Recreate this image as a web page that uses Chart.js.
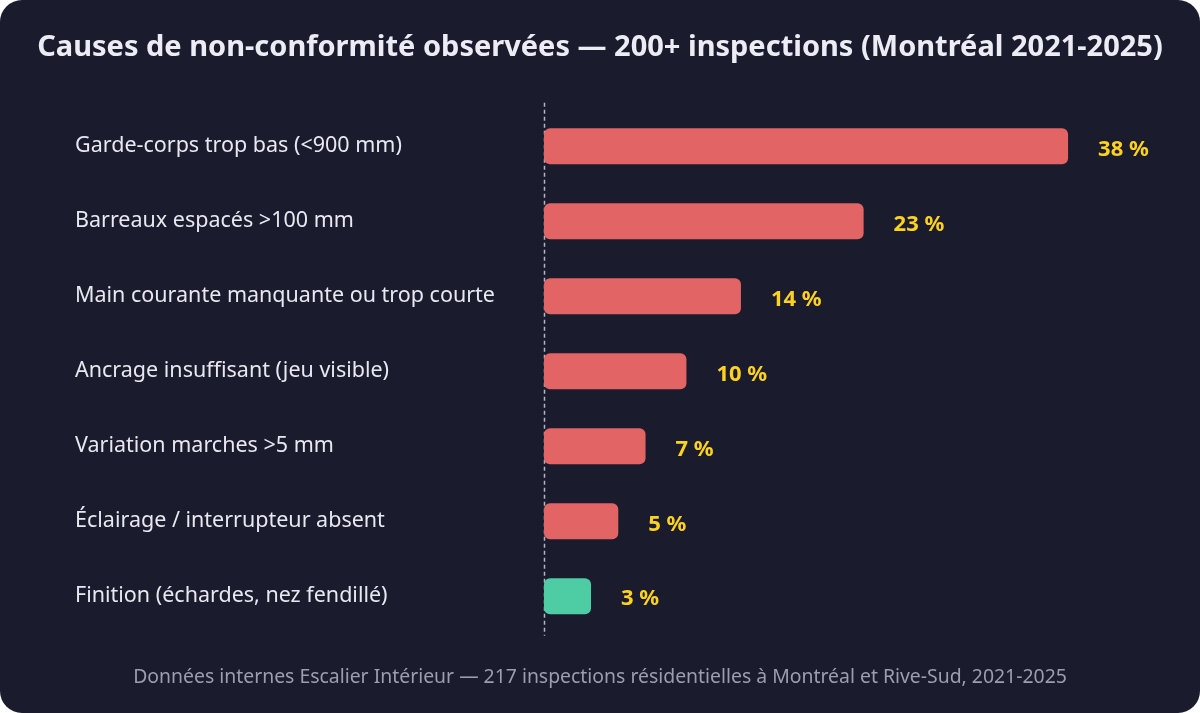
<!DOCTYPE html>
<html lang="fr">
<head>
<meta charset="utf-8">
<script src="https://cdn.jsdelivr.net/npm/chart.js@4.4.1/dist/chart.umd.min.js"></script>
<style>
    html, body { margin: 0; padding: 0; background: #ffffff; }
    .card {
        width: 1200px;
        height: 713px;
        background: #1b1b2e;
        border-radius: 22px;
        overflow: hidden;
    }
    canvas { display: block; }
</style>
</head>
<body>
<div class="card">
    <canvas id="barChart" width="1200" height="713"></canvas>
</div>
<script>
// Data
const causes = [
    "Garde-corps trop bas (<900 mm)",
    "Barreaux espacés >100 mm",
    "Main courante manquante ou trop courte",
    "Ancrage insuffisant (jeu visible)",
    "Variation marches >5 mm",
    "Éclairage / interrupteur absent",
    "Finition (échardes, nez fendillé)"
];
const percentages = [38, 23, 14, 10, 7, 5, 3];

const chartTitle = "Causes de non-conformité observées — 200+ inspections (Montréal 2021-2025)";
const sourceNote = "Données internes Escalier Intérieur — 217 inspections résidentielles à Montréal et Rive-Sud, 2021-2025";

const FONT = "'Noto Sans', 'Open Sans', sans-serif";
const RED = "#e36464";
const TEAL = "#4ecca3";
const YELLOW = "#ffd21f";
const BASE = -0.45; // bars start a hair left of zero, like the original
const LABEL_LEFT = 75;

// category labels start at a fixed left margin (keeps the title full-width)
const labelMargin = {
    id: "labelMargin",
    afterLayout(chart) {
        chart.scales.y.left = LABEL_LEFT;
    }
};

// dashed zero line behind the bars
const zeroLine = {
    id: "zeroLine",
    beforeDatasetsDraw(chart) {
        const { ctx, chartArea } = chart;
        const x = Math.round(chartArea.left) + 0.5;
        ctx.save();
        ctx.strokeStyle = "#b4b4c6";
        ctx.lineWidth = 1.5;
        ctx.setLineDash([4, 3]);
        ctx.beginPath();
        ctx.moveTo(x, chartArea.top - 6);
        ctx.lineTo(x, chartArea.bottom + 2);
        ctx.stroke();
        ctx.restore();
    }
};

// value labels to the right of each bar
const valueLabels = {
    id: "valueLabels",
    afterDatasetsDraw(chart) {
        const ctx = chart.ctx;
        const meta = chart.getDatasetMeta(0);
        ctx.save();
        ctx.font = "bold 22px " + FONT;
        ctx.fillStyle = YELLOW;
        ctx.textAlign = "left";
        ctx.textBaseline = "middle";
        meta.data.forEach((bar, i) => {
            ctx.fillText(percentages[i] + " %", bar.x + 30, bar.y + 3);
        });
        ctx.restore();
    }
};

const ctx = document.getElementById("barChart").getContext("2d");
new Chart(ctx, {
    type: "bar",
    data: {
        labels: causes,
        datasets: [{
            data: percentages,
            base: BASE,
            backgroundColor: (c) => c.dataIndex === percentages.length - 1 ? TEAL : RED,
            borderRadius: 6,
            borderSkipped: false,
            barPercentage: 0.6,
            categoryPercentage: 0.8
        }]
    },
    options: {
        indexAxis: "y",
        responsive: false,
        animation: false,
        layout: { padding: 0 },
        scales: {
            x: {
                display: false,
                min: BASE,
                max: 47.68
            },
            y: {
                afterFit: (scale) => { scale.width = 544; },
                grid: { display: false, drawTicks: false },
                border: { display: false },
                ticks: {
                    crossAlign: "far",
                    color: "#e8e8f0",
                    font: { family: FONT, size: 21.5 },
                    padding: 0
                }
            }
        },
        plugins: {
            legend: { display: false },
            tooltip: { enabled: false },
            title: {
                display: true,
                text: chartTitle,
                color: "#ececf4",
                font: { family: FONT, size: 29, weight: "bold" },
                padding: { top: 30, bottom: 44 }
            },
            subtitle: {
                display: true,
                position: "bottom",
                text: sourceNote,
                color: "#9d9db2",
                font: { family: FONT, size: 19.4 },
                padding: { top: 32, bottom: 24 }
            }
        }
    },
    plugins: [labelMargin, zeroLine, valueLabels]
});
</script>
</body>
</html>
